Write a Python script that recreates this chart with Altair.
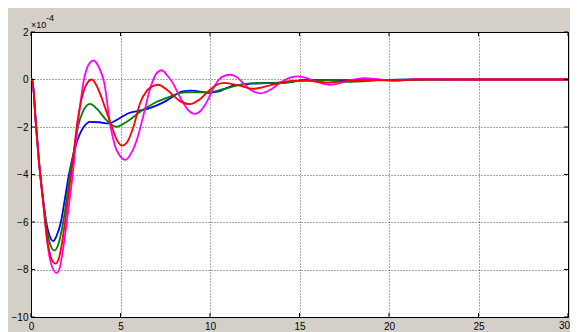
import altair as alt
import pandas as pd

# ---- data (values in units of 1e-4) ----
blue_t = [0, 0.07, 0.26, 0.44, 0.67, 0.9, 1.05, 1.25, 1.42, 1.67, 1.9, 2.12, 2.42, 2.67, 2.94, 3.3, 3.8, 4.33,
          4.9, 5.44, 6.28, 7.0, 7.57, 8.0, 8.4, 8.96, 9.9, 10.5, 11.2, 12.1, 14.3, 15.4, 18.0, 22.0, 30.0]
blue_v = [0, 0, -1.73, -3.4, -5.0, -6.2, -6.6, -6.8, -6.6, -6.0, -5.0, -4.0, -3.0, -2.4, -2.0, -1.78, -1.8, -1.85,
          -1.65, -1.42, -1.28, -1.1, -0.89, -0.68, -0.51, -0.47, -0.56, -0.5, -0.28, -0.19, -0.11, -0.02, -0.03, 0, 0]

green_t = [0, 0.07, 0.26, 0.44, 0.67, 0.9, 1.1, 1.3, 1.5, 1.8, 2.0, 2.17, 2.4, 2.62, 2.9, 3.3, 3.7, 4.2, 4.75,
           5.3, 6.2, 7.0, 7.67, 8.6, 9.9, 11.0, 12.1, 13.0, 14.0, 15.3, 16.7, 17.6, 20.0, 22.0, 30.0]
green_v = [0, 0, -1.73, -3.42, -5.05, -6.4, -7.0, -7.2, -7.0, -6.0, -5.0, -4.0, -3.0, -2.0, -1.35, -1.03, -1.25,
           -1.7, -1.99, -1.8, -1.31, -0.95, -0.75, -0.54, -0.54, -0.35, -0.17, -0.15, -0.15, -0.04, -0.04, -0.1,
           -0.02, 0, 0]

magenta_t = [0, 0.07, 0.26, 0.44, 0.67, 0.9, 1.1, 1.43, 1.6, 1.8, 2.0, 2.17, 2.33, 2.46, 2.6, 2.76, 2.96, 3.2,
             3.5, 3.8, 4.08, 4.45, 4.8, 5.28, 5.6, 5.95, 6.3, 6.65, 7.0, 7.3, 7.6, 7.9, 8.2, 8.5, 8.8, 9.15,
             9.5, 9.85, 10.2, 10.5, 10.8, 11.15, 11.5, 11.85, 12.2, 12.85, 13.4, 13.9, 14.4, 14.9, 15.4, 15.9,
             16.65, 17.3, 17.9, 18.6, 19.5, 20.4, 21.5, 22.5, 24.0, 30.0]
magenta_v = [0, 0, -1.73, -3.42, -5.1, -6.8, -7.7, -8.15, -7.95, -7.1, -6.0, -5.0, -4.0, -3.0, -2.0, -1.0, 0.0,
             0.6, 0.8, 0.5, -0.1, -2.0, -3.0, -3.38, -3.1, -2.45, -1.45, -0.4, 0.25, 0.39, 0.18, -0.12, -0.55,
             -0.98, -1.3, -1.45, -1.3, -0.9, -0.35, 0.0, 0.15, 0.2, 0.1, -0.15, -0.4, -0.58, -0.42, -0.15, 0.06,
             0.13, 0.06, -0.08, -0.22, -0.14, -0.02, 0.06, 0.0, -0.06, 0.02, 0.02, 0, 0]

red_t = [0, 0.07, 0.26, 0.44, 0.67, 0.9, 1.1, 1.25, 1.37, 1.55, 1.75, 1.9, 2.07, 2.24, 2.4, 2.55, 2.8, 3.1, 3.4,
         3.75, 4.1, 4.52, 4.8, 5.1, 5.4, 5.72, 6.09, 6.5, 6.8, 7.1, 7.7, 8.3, 8.87, 9.4, 9.9, 10.3, 10.8, 11.6,
         12.4, 13.5, 14.6, 15.5, 16.5, 17.5, 18.7, 20.0, 22.0, 30.0]
red_v = [0, 0, -1.73, -3.42, -5.1, -6.7, -7.45, -7.7, -7.75, -7.55, -6.8, -6.0, -5.0, -4.0, -3.0, -2.0, -0.9, -0.2,
         0.0, -0.4, -1.1, -2.0, -2.55, -2.78, -2.6, -2.0, -1.0, -0.45, -0.28, -0.22, -0.5, -0.9, -1.04, -0.85,
         -0.5, -0.25, -0.14, -0.25, -0.39, -0.22, -0.06, -0.06, -0.13, -0.08, -0.02, -0.04, 0, 0]

series = [("blue", "#0000ff", blue_t, blue_v),
          ("green", "#008000", green_t, green_v),
          ("magenta", "#ff00ff", magenta_t, magenta_v),
          ("red", "#ff0000", red_t, red_v)]

x_ticks = [0, 5, 10, 15, 20, 25, 30]
x_labels_axis = [0, 5, 10, 15, 20, 25]
x_label_last = ["30"]
y_ticks = [2, 0, -2, -4, -6, -8, -10]
exp_label = ["×10"]
exp_power = ["-4"]

W, H = 537, 285
FONT = "Liberation Sans"

xscale = alt.Scale(domain=[0, 30], nice=False, zero=False)
yscale = alt.Scale(domain=[-10, 2], nice=False, zero=False)

xaxis = alt.Axis(values=x_labels_axis, grid=True, gridDash=[1, 2], gridColor="#000000", gridOpacity=0.7,
                 tickSize=0, domain=False, labelPadding=4, labelFontSize=10, labelFont=FONT,
                 labelColor="#000000", title=None, labelFlush=False)
yaxis = alt.Axis(values=y_ticks, grid=True, gridDash=[1, 2], gridColor="#000000", gridOpacity=0.7,
                 tickSize=0, domain=False, labelPadding=3, labelFontSize=10, labelFont=FONT,
                 labelColor="#000000", title=None, labelFlush=False)

X = lambda f: alt.X(f, scale=xscale, axis=xaxis)
Y = lambda f: alt.Y(f, scale=yscale, axis=yaxis)

layers = []
for name, col, ts, vs in series:
    df = pd.DataFrame({"t": ts, "v": vs})
    layers.append(alt.Chart(df).mark_line(color=col, strokeWidth=1.8, interpolate="monotone")
                  .encode(x=X("t:Q"), y=Y("v:Q")))

xt = pd.DataFrame({"t": x_ticks})
yt = pd.DataFrame({"v": y_ticks})
tick_col = "#000000"
layers.append(alt.Chart(xt).mark_rule(color=tick_col, strokeWidth=1).encode(
    x=X("t:Q"), y=alt.value(H), y2=alt.value(H - 4)))
layers.append(alt.Chart(xt).mark_rule(color=tick_col, strokeWidth=1).encode(
    x=X("t:Q"), y=alt.value(0), y2=alt.value(4)))
layers.append(alt.Chart(yt).mark_rule(color=tick_col, strokeWidth=1).encode(
    y=Y("v:Q"), x=alt.value(0), x2=alt.value(4)))
layers.append(alt.Chart(yt).mark_rule(color=tick_col, strokeWidth=1).encode(
    y=Y("v:Q"), x=alt.value(W), x2=alt.value(W - 4)))

layers.append(alt.Chart(pd.DataFrame({"s": x_label_last})).mark_text(
    align="right", baseline="top", fontSize=10, font=FONT, color="#000000").encode(
    x=alt.value(W + 2), y=alt.value(H + 4), text="s:N"))
layers.append(alt.Chart(pd.DataFrame({"s": exp_label})).mark_text(
    align="left", baseline="alphabetic", fontSize=9, font=FONT, color="#000000").encode(
    x=alt.value(0), y=alt.value(-4.5), text="s:N"))
layers.append(alt.Chart(pd.DataFrame({"s": exp_power})).mark_text(
    align="left", baseline="alphabetic", fontSize=9, font=FONT, color="#000000").encode(
    x=alt.value(15), y=alt.value(-11), text="s:N"))

chart = alt.layer(*layers).properties(
    width=W, height=H,
    background="#d4d0c8",
    padding={"left": 23, "top": 24, "right": 2, "bottom": 15},
    autosize=alt.AutoSizeParams(type="none"),
).configure_view(
    fill="#ffffff", stroke="#000000", strokeWidth=1
)

chart.save("out.html", embed_options={"renderer": "svg", "actions": False})
